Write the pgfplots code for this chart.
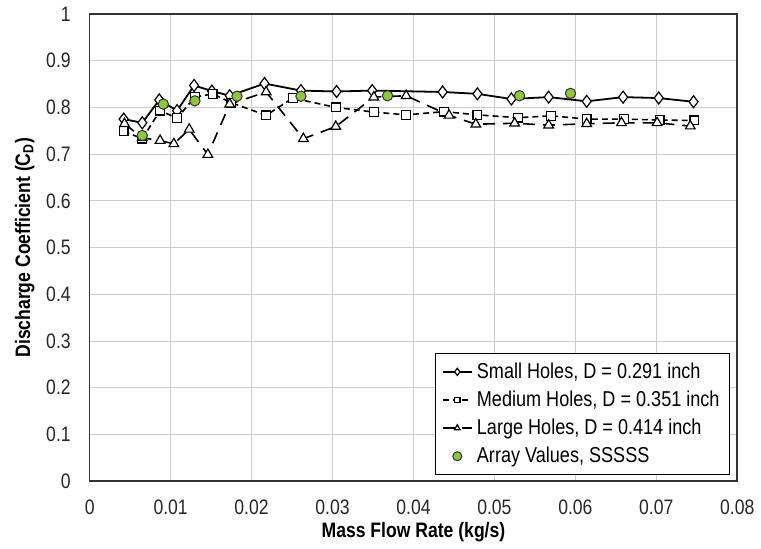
\documentclass[border=0pt]{standalone}
\usepackage{pgfplots}
\pgfplotsset{compat=1.18}
\usepackage{fontspec}
\setmainfont{Liberation Sans}[FakeStretch=0.84]
\definecolor{arraygreen}{RGB}{141,198,63}

\begin{document}
\begin{tikzpicture}
  \begin{axis}[
    scale only axis,
    width=325pt, height=234.5pt,
    xmin=0, xmax=0.08, ymin=0, ymax=1,
    scaled x ticks=false,
    xtick={0,0.01,0.02,0.03,0.04,0.05,0.06,0.07,0.08},
    xticklabels={0,0.01,0.02,0.03,0.04,0.05,0.06,0.07,0.08},
    ytick={0,0.1,0.2,0.3,0.4,0.5,0.6,0.7,0.8,0.9,1},
    yticklabels={0,0.1,0.2,0.3,0.4,0.5,0.6,0.7,0.8,0.9,1},
    tick label style={font=\fontsize{10.5}{12}\selectfont, text=black!85},
    xticklabel style={yshift=-6pt},
    yticklabel style={xshift=-6pt},
    major tick length=0pt,
    grid=major,
    grid style={gray!40, line width=0.5pt},
    axis line style={black!80, line width=0.8pt},
    xlabel={\textbf{Mass Flow Rate (kg/s)}},
    ylabel={\textbf{Discharge Coefficient (C\textsubscript{D})}},
    xlabel style={yshift=3pt},
    ylabel style={yshift=-1pt},
    label style={font=\fontsize{10.5}{12}\selectfont},
    legend style={at={(0.989,0.013)}, anchor=south east, draw=black,
      line width=0.6pt, font=\fontsize{10.8}{12}\selectfont,
      row sep=0.8pt, inner xsep=3pt, inner ysep=2.5pt},
    legend cell align=left,
    legend image code/.code={%
      \draw[mark repeat=2, mark phase=2, /tikz/every mark/.append style={scale=0.6}]
        plot coordinates {(0cm,0cm) (0.26cm,0cm) (0.52cm,0cm)};},
  ]
    \addplot[black, line width=0.9pt, mark=diamond*, mark size=3pt,
      mark options={fill=white, solid, line width=0.6pt}]
    coordinates {
      (0.0042,0.775) (0.0065,0.767) (0.0086,0.816) (0.0108,0.793)
      (0.0129,0.847) (0.0151,0.835) (0.0173,0.825) (0.0216,0.851)
      (0.0261,0.836) (0.0305,0.834) (0.0349,0.836) (0.0436,0.833)
      (0.0479,0.829) (0.0521,0.818) (0.0567,0.822) (0.0614,0.813)
      (0.0659,0.822) (0.0703,0.820) (0.0746,0.812)
    };
    \addlegendentry{Small Holes, D = 0.291 inch}
    \addplot[black, line width=0.8pt, dash pattern=on 3pt off 2pt,
      mark=square*, mark size=2.2pt,
      mark options={fill=white, solid, line width=0.6pt}]
    coordinates {
      (0.0042,0.749) (0.0065,0.733) (0.0087,0.793) (0.0108,0.777)
      (0.0130,0.822) (0.0152,0.829) (0.0175,0.810) (0.0218,0.783)
      (0.0251,0.820) (0.0304,0.800) (0.0351,0.790) (0.0391,0.784)
      (0.0438,0.791) (0.0479,0.784) (0.0529,0.778) (0.0570,0.782)
      (0.0614,0.775) (0.0660,0.775) (0.0704,0.773) (0.0747,0.772)
    };
    \addlegendentry{Medium Holes, D = 0.351 inch}
    \addplot[black, line width=0.8pt, dash pattern=on 6pt off 4pt,
      mark=triangle*, mark size=2.8pt,
      mark options={fill=white, solid, line width=0.6pt}]
    coordinates {
      (0.0043,0.765) (0.0065,0.735) (0.0087,0.729) (0.0104,0.722)
      (0.0123,0.753) (0.0146,0.699) (0.0173,0.807) (0.0218,0.833)
      (0.0264,0.733) (0.0304,0.759) (0.0351,0.822) (0.0391,0.825)
      (0.0444,0.783) (0.0477,0.764) (0.0525,0.766) (0.0567,0.762)
      (0.0614,0.765) (0.0657,0.767) (0.0701,0.767) (0.0742,0.760)
    };
    \addlegendentry{Large Holes, D = 0.414 inch}
    \addplot[only marks, mark=*, mark size=2.6pt,
      mark options={fill=arraygreen, draw=black!80, line width=0.5pt},
      legend image post style={/tikz/every mark/.append style={scale=1.45}}]
    coordinates {
      (0.0065,0.740) (0.0091,0.807) (0.0130,0.814) (0.0182,0.824)
      (0.0261,0.824) (0.0368,0.825) (0.0531,0.825) (0.0594,0.830)
    };
    \addlegendentry{Array Values, SSSSS}
  \end{axis}
  % white margins as in the reference
  \path (current axis.south west) ++(-45pt,-31pt);
  \path (current axis.north east) ++(10.5pt,7pt);
\end{tikzpicture}
\end{document}
